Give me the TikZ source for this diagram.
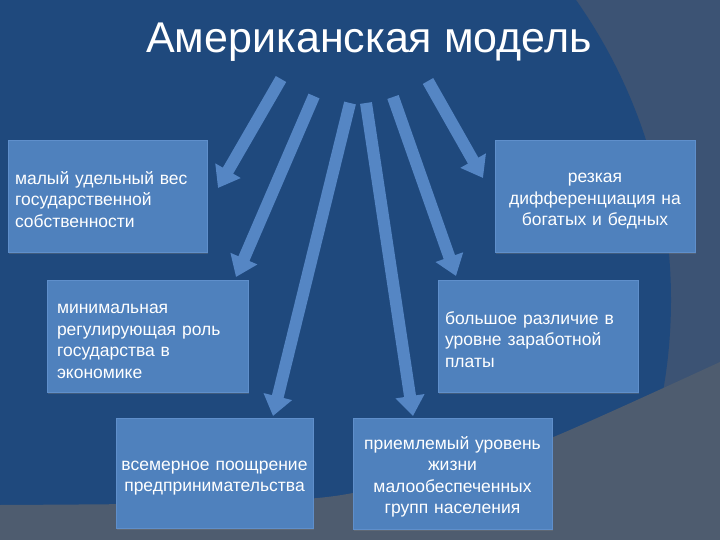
\documentclass[tikz,border=0pt]{standalone}
\usepackage{fontspec}
\setmainfont{Liberation Sans}
\usetikzlibrary{arrows.meta,shadows}

\definecolor{fonblue}{HTML}{1F497D}
\definecolor{fonside}{HTML}{3C5374}
\definecolor{fonlow}{HTML}{4E5C6F}
\definecolor{boxblue}{HTML}{4F81BD}
\definecolor{boxedge}{HTML}{5F8FCB}
\definecolor{arrblue}{HTML}{5586C4}

\begin{document}
\begin{tikzpicture}[x=1pt,y=-1pt,
  box/.style={fill=boxblue,draw=boxedge,line width=0.8pt,text=white,
    font=\fontsize{17.5}{21.5}\selectfont,inner ysep=0pt,minimum height=112pt,
    execute at begin node={\rule{0pt}{20pt}},
    drop shadow={shadow xshift=1pt,shadow yshift=-2pt,opacity=0.35}},
  arr/.style={draw=arrblue,line width=12pt,-{Triangle[width=28pt,length=20pt]}}]
  \path[use as bounding box,clip] (0,0) rectangle (720,540);

  % фон
  \fill[fonside] (0,0) rectangle (720,540);
  \fill[fonblue] (150,300) circle[radius=521];
  \fill[fonlow] plot[smooth] coordinates {(0,505) (200,503) (335,496) (460,467) (551,438) (720,362)}
    -- (720,540) -- (0,540) -- cycle;

  % заголовок
  \node[anchor=base,text=white,font=\fontsize{43}{50}\selectfont] (title) at (369,53) {Американская модель};

  % блоки
  \node[box,inner xsep=7pt,text width=185pt,align=left] (sob) at (107.5,196)
    {малый удельный вес\\государственной\\собственности};
  \node[box,inner xsep=3pt,text width=194pt,align=center] (diff) at (595,196)
    {резкая\\дифференциация на\\богатых и бедных};
  \node[box,inner xsep=10pt,text width=181pt,align=left] (reg) at (147.5,336)
    {минимальная\\регулирующая роль\\государства в\\экономике};
  \node[box,inner xsep=7pt,text width=186pt,align=left] (zarp) at (538,336)
    {большое различие в\\уровне заработной\\платы};
  \node[box,inner xsep=2pt,text width=193pt,align=center,minimum height=110pt] (pred) at (214.5,473)
    {всемерное поощрение\\предпринимательства};
  \node[box,inner xsep=3pt,text width=193pt,align=center,minimum height=111pt] (zhizn) at (452.5,473.5)
    {приемлемый уровень\\жизни\\малообеспеченных\\групп населения};

  % стрелки
  \coordinate (s1) at (281,79);  \coordinate (t1) at (218,188);
  \coordinate (s2) at (314,96);  \coordinate (t2) at (236,277);
  \coordinate (s3) at (350,103); \coordinate (t3) at (273,416);
  \coordinate (s4) at (366,103); \coordinate (t4) at (413,416);
  \coordinate (s5) at (393,97);  \coordinate (t5) at (456,276);
  \coordinate (s6) at (428,81);  \coordinate (t6) at (483,178);
  \foreach \i in {1,...,6}
    \draw[arr] (s\i) -- (t\i);
\end{tikzpicture}
\end{document}
